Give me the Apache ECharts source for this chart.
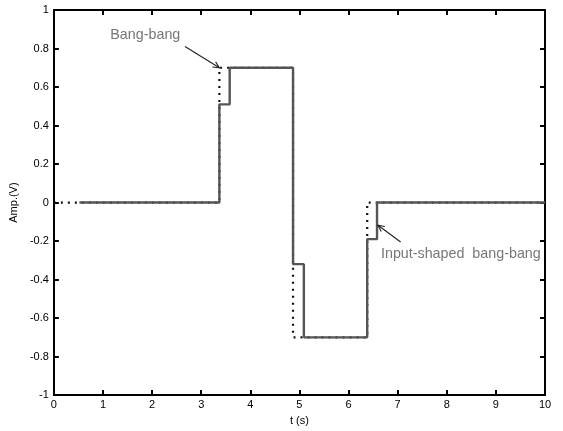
<!DOCTYPE html>
<html>
<head>
<meta charset="utf-8">
<script src="https://cdn.jsdelivr.net/npm/echarts@6/dist/echarts.min.js"></script>
<style>
  html, body { margin: 0; padding: 0; background: #fff; overflow: hidden; }
  #chart { width: 100vw; height: 100vh; }
</style>
</head>
<body>
<div id="chart"></div>
<script>
// Switching times (s) and command levels (V); each level holds until the next time.
var bangTimes = [0, 3.37, 4.87, 6.38, 10];
var bangLevels = [0, 0.70, -0.70, 0, 0];

var shapedTimes = [0.52, 3.37, 3.58, 4.87, 5.09, 6.38, 6.58, 10];
var shapedLevels = [0, 0.51, 0.70, -0.32, -0.70, -0.19, 0, 0];

var xTicks = [0, 1, 2, 3, 4, 5, 6, 7, 8, 9, 10];
var yTicks = [-1, -0.8, -0.6, -0.4, -0.2, 0, 0.2, 0.4, 0.6, 0.8, 1];

function pairs(ts, vs) {
  return ts.map(function (t, i) { return [t, vs[i]]; });
}

var FONT = '"Liberation Sans", Arial, Helvetica, sans-serif';
var chart = echarts.init(document.getElementById('chart'));

var axisLine = { show: true, onZero: false, lineStyle: { color: '#000', width: 2 } };
var axisTick = { show: true, inside: true, length: 5, lineStyle: { color: '#000', width: 2 } };

chart.setOption({
  animation: false,
  backgroundColor: '#fff',
  grid: { left: 51, right: 18, top: 10, bottom: 31, containLabel: false },
  xAxis: [{
    type: 'value', min: xTicks[0], max: xTicks[xTicks.length - 1], interval: 1,
    position: 'bottom',
    name: 't (s)', nameLocation: 'middle', nameGap: 18,
    nameTextStyle: { fontFamily: FONT, fontSize: 11, color: '#000' },
    axisLine: axisLine, axisTick: axisTick,
    axisLabel: { fontFamily: FONT, fontSize: 11, color: '#000', margin: 4 },
    splitLine: { show: false }
  }, {
    type: 'value', min: xTicks[0], max: xTicks[xTicks.length - 1], interval: 1,
    position: 'top',
    axisLine: axisLine, axisTick: axisTick,
    axisLabel: { show: false }, splitLine: { show: false }
  }],
  yAxis: [{
    type: 'value', min: yTicks[0], max: yTicks[yTicks.length - 1], interval: 0.2,
    position: 'left',
    name: 'Amp.(V)', nameLocation: 'middle', nameGap: 33, nameRotate: 90,
    nameTextStyle: { fontFamily: FONT, fontSize: 11, color: '#000' },
    axisLine: axisLine, axisTick: axisTick,
    axisLabel: {
      fontFamily: FONT, fontSize: 11, color: '#000', margin: 5,
      formatter: function (v) { return String(Math.round(v * 10) / 10); }
    },
    splitLine: { show: false }
  }, {
    type: 'value', min: yTicks[0], max: yTicks[yTicks.length - 1], interval: 0.2,
    position: 'right',
    axisLine: axisLine, axisTick: axisTick,
    axisLabel: { show: false }, splitLine: { show: false }
  }],
  series: [{
    name: 'Bang-bang',
    type: 'line', step: 'end', showSymbol: false, symbol: 'none',
    data: pairs(bangTimes, bangLevels),
    lineStyle: { color: '#111', width: 2.2, type: [2, 5] },
    z: 2
  }, {
    name: 'Input-shaped bang-bang',
    type: 'line', step: 'end', showSymbol: false, symbol: 'none',
    data: pairs(shapedTimes, shapedLevels),
    lineStyle: { color: '#555', width: 2.4 },
    z: 3
  }]
});

// Annotation arrows, placed in data coordinates
function arrow(from, to) {
  var p0 = chart.convertToPixel({ gridIndex: 0 }, from);
  var p1 = chart.convertToPixel({ gridIndex: 0 }, to);
  var a = Math.atan2(p1[1] - p0[1], p1[0] - p0[0]);
  var L = 7, w = 0.45;
  var h1 = [p1[0] - L * Math.cos(a - w), p1[1] - L * Math.sin(a - w)];
  var h2 = [p1[0] - L * Math.cos(a + w), p1[1] - L * Math.sin(a + w)];
  var st = { stroke: '#222', lineWidth: 1.1, fill: null };
  return [
    { type: 'line', shape: { x1: p0[0], y1: p0[1], x2: p1[0], y2: p1[1] }, style: st, z: 10 },
    { type: 'polyline', shape: { points: [h1, p1, h2] }, style: st, z: 10 }
  ];
}

function label(text, at) {
  var p = chart.convertToPixel({ gridIndex: 0 }, at);
  return {
    type: 'text', x: p[0], y: p[1], z: 10,
    style: { text: text, fill: '#777', font: '14.3px ' + FONT, textVerticalAlign: 'middle', textAlign: 'left' }
  };
}

var elements = []
  .concat(arrow([2.67, 0.81], [3.37, 0.70]))
  .concat(arrow([7.06, -0.205], [6.60, -0.118]))
  .concat([label('Bang-bang', [1.15, 0.87]), label('Input-shaped  bang-bang', [6.66, -0.27])]);

chart.setOption({ graphic: elements });
</script>
</body>
</html>
